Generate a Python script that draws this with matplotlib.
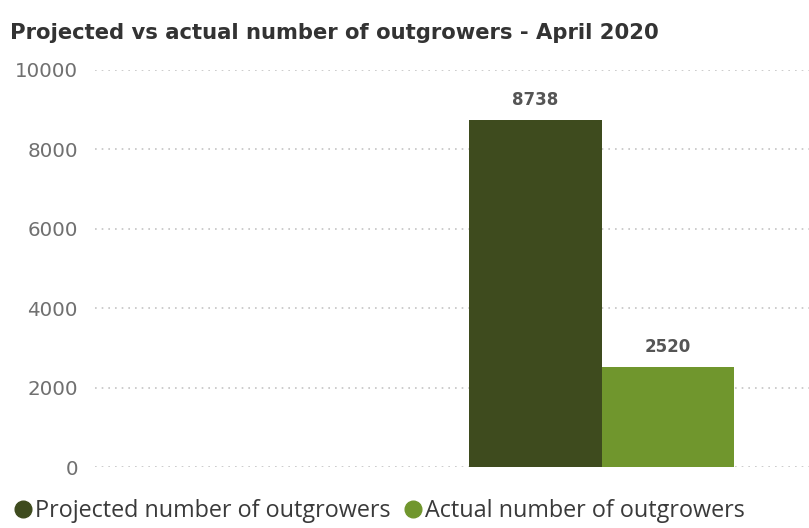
import matplotlib.pyplot as plt
from matplotlib.lines import Line2D

# outgrowers for April 2020
months = ['April 2020']
series = ['Projected number of outgrowers', 'Actual number of outgrowers']
projected = [8738]
actual = [2520]
yticks = [0, 2000, 4000, 6000, 8000, 10000]

dark = '#3e4b1e'
light = '#70962d'

fig = plt.figure(figsize=(8.09, 5.28), dpi=100)
ax = fig.add_axes([0.117, 0.1155, 0.883, 0.752])

w = 0.5
xs = list(range(len(months)))
b1 = ax.bar([x - w / 2 for x in xs], projected, width=w, color=dark, zorder=3)
b2 = ax.bar([x + w / 2 for x in xs], actual, width=w, color=light, zorder=3)
for bars in (b1, b2):
    ax.bar_label(bars, padding=8, fontsize=12, fontweight='bold', color='#555555')

ax.set_xlim(-1.913, 0.781)
ax.set_ylim(0, 10000)
ax.set_yticks(yticks)
ax.set_yticklabels([str(t) for t in yticks])
ax.set_xticks([])
ax.tick_params(axis='y', length=0, pad=12, labelsize=14.3, labelcolor='#707070')
ax.yaxis.grid(True, color='#c4c4c4', linestyle=(0, (1, 3)), linewidth=1.2, zorder=0)
for s in ax.spines.values():
    s.set_visible(False)

fig.text(0.012, 0.938, 'Projected vs actual number of outgrowers - April 2020',
         fontsize=15.2, fontweight='bold', color='#333333', va='center')

handles = [Line2D([], [], marker='o', linestyle='', markersize=12, color=c) for c in (dark, light)]
fig.legend(handles, series, loc='lower left', bbox_to_anchor=(-0.012, -0.03), ncol=2,
           frameon=False, handletextpad=0.0, columnspacing=0.5, handlelength=1.0,
           prop={'family': 'Open Sans', 'size': 16.8}, labelcolor='#3a3a3a')

fig.savefig('out.png', dpi=100)
